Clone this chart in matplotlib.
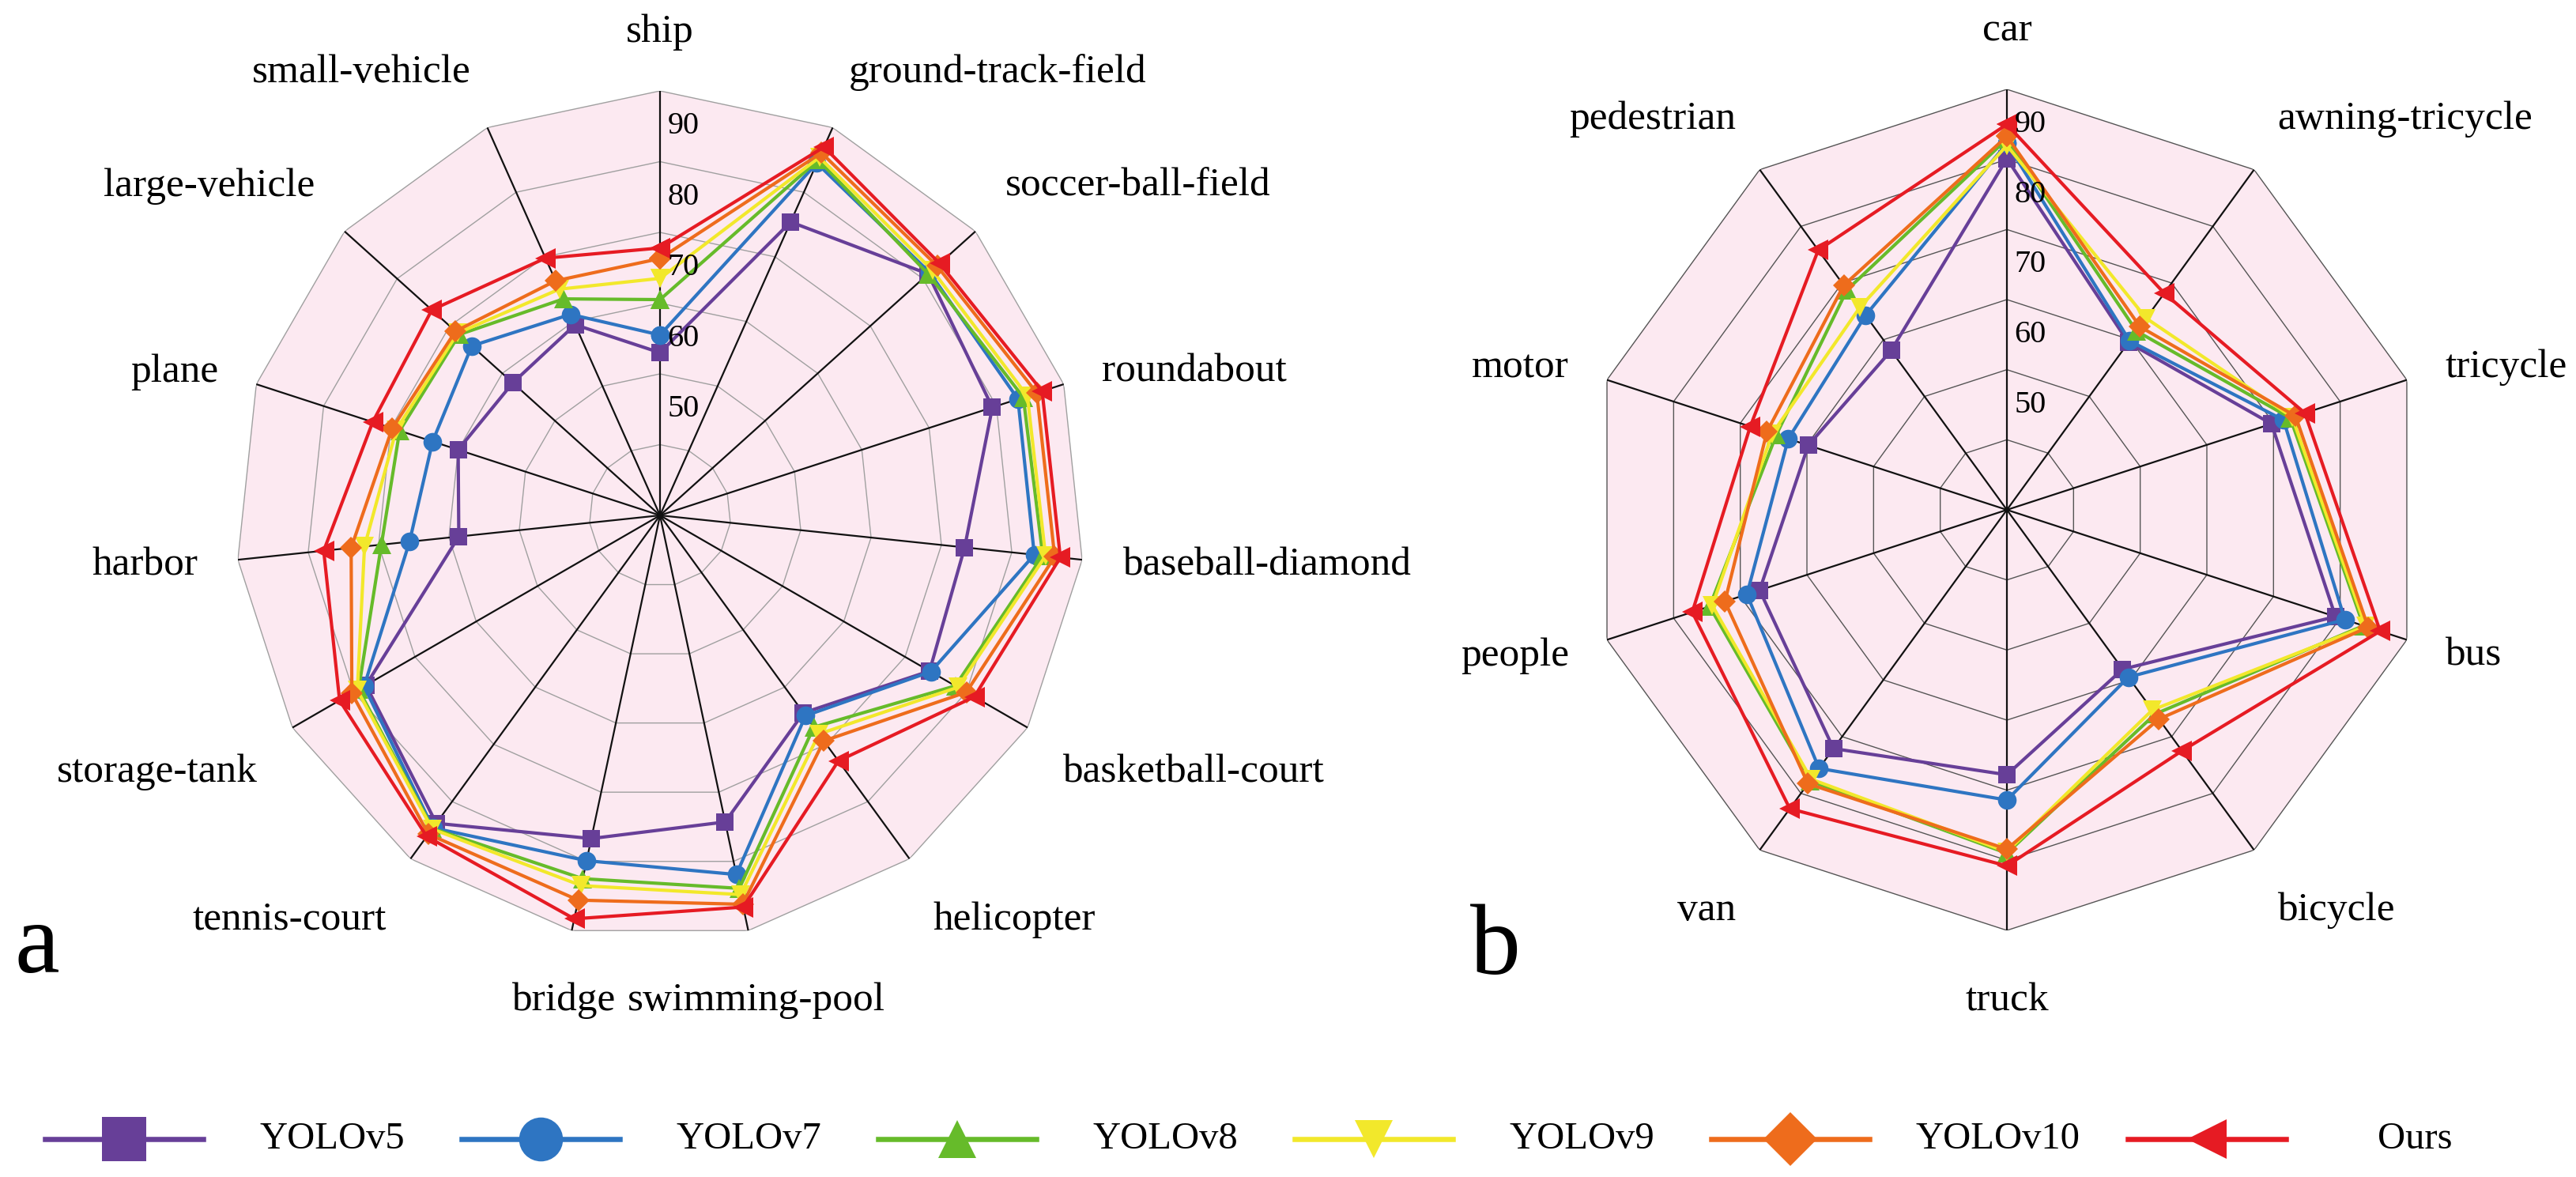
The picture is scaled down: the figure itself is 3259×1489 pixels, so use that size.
import numpy as np
import matplotlib
matplotlib.use("Agg")
import matplotlib.pyplot as plt
from matplotlib.lines import Line2D

FONT = ["Liberation Serif", "DejaVu Serif"]
plt.rcParams["font.family"] = FONT

W, H = 3259, 1489

MODELS = ["YOLOv5", "YOLOv7", "YOLOv8", "YOLOv9", "YOLOv10", "Ours"]
COLORS = ["#673F98", "#2E75C2", "#66BB2A", "#F2E82B", "#EE6C1C", "#E61B23"]
MARKERS = ["s", "o", "^", "v", "D", "<"]
MSIZE = [16, 17, 17, 17, 14, 19]
LEG_MSIZE = [40, 40, 35, 35, 35, 36]

# (a) DOTA classes, clockwise from the top
DOTA_CLASSES = ["ship", "ground-track-field", "soccer-ball-field", "roundabout",
                "baseball-diamond", "basketball-court", "helicopter",
                "swimming-pool", "bridge", "tennis-court", "storage-tank",
                "harbor", "plane", "large-vehicle", "small-vehicle"]
DOTA_V5 = [58.0, 80.4, 86.0, 84.4, 78.3, 79.0, 69.5, 79.3, 81.7, 88.8, 83.0, 63.6, 65.0, 63.0, 64.5]
DOTA_V7 = [60.5, 89.5, 86.3, 88.2, 88.2, 79.2, 70.0, 86.9, 84.9, 89.6, 83.3, 70.6, 68.8, 70.8, 66.1]
DOTA_V8 = [65.5, 90.0, 86.0, 89.0, 89.4, 83.2, 72.0, 88.9, 87.5, 89.7, 84.2, 74.6, 73.7, 73.2, 68.5]
DOTA_V9 = [68.5, 90.4, 86.8, 89.6, 89.8, 83.6, 73.2, 89.8, 88.5, 89.8, 84.4, 77.0, 74.2, 73.5, 70.0]
DOTA_V10 = [71.3, 91.1, 87.7, 91.0, 91.1, 85.0, 74.4, 91.2, 90.6, 90.7, 85.3, 78.9, 74.8, 73.9, 71.3]
DOTA_OURS = [72.8, 92.0, 88.2, 91.8, 91.9, 86.3, 77.9, 91.6, 93.3, 91.1, 87.3, 82.8, 77.7, 78.4, 74.8]

# (b) VisDrone classes, clockwise from the top
VIS_CLASSES = ["car", "awning-tricycle", "tricycle", "bus", "bicycle",
               "truck", "van", "people", "motor", "pedestrian"]
VIS_V5 = [85.1, 64.5, 74.7, 84.3, 63.1, 72.8, 77.1, 72.1, 64.8, 63.1]
VIS_V7 = [87.3, 64.8, 76.5, 85.7, 64.5, 76.4, 80.6, 74.0, 67.8, 69.3]
VIS_V8 = [87.9, 66.5, 77.5, 88.5, 71.0, 84.0, 82.8, 79.6, 69.6, 73.8]
VIS_V9 = [87.0, 68.8, 77.8, 88.8, 70.3, 83.8, 82.5, 79.2, 70.2, 70.7]
VIS_V10 = [88.3, 67.3, 78.3, 89.2, 71.9, 83.4, 83.3, 77.3, 71.0, 74.6]
VIS_OURS = [90.0, 73.2, 79.7, 91.0, 77.5, 85.8, 87.7, 82.2, 73.5, 80.8]

R_MIN, R_MAX = 35, 95
RINGS = [45, 55, 65, 75, 85, 95]
TICKS = [50, 60, 70, 80, 90]
PINK = "#FCE9F1"


def draw_radar(ax, classes, series, ring_color, spoke_color):
    n = len(classes)
    theta = np.linspace(0, 2 * np.pi, n, endpoint=False)
    closed = np.append(theta, theta[0])

    ax.set_theta_zero_location("N")
    ax.set_theta_direction(-1)
    ax.set_ylim(R_MIN, R_MAX)
    ax.grid(False)
    ax.spines["polar"].set_visible(False)
    ax.set_xticks([])
    ax.set_yticks([])
    ax.patch.set_alpha(0)

    ax.fill(closed, [R_MAX] * (n + 1), color=PINK, lw=0, zorder=0)
    for r in RINGS:
        ax.plot(closed, [r] * (n + 1), color=ring_color, lw=1.0, zorder=1)
    for t in theta:
        ax.plot([t, t], [R_MIN, R_MAX], color=spoke_color, lw=1.6, zorder=2)

    for i, vals in enumerate(series):
        ax.plot(closed, list(vals) + [vals[0]], color=COLORS[i], lw=3.0,
                marker=MARKERS[i], ms=MSIZE[i], mec=COLORS[i], mew=0,
                zorder=3 + i, clip_on=False)

    for v in TICKS:
        ax.annotate(str(v), xy=(0, v), xytext=(7, 0), textcoords="offset points",
                    ha="left", va="center", fontsize=29, family=FONT, zorder=10)

    r_lab = R_MIN + 1.095 * (R_MAX - R_MIN)
    for t, name in zip(theta, classes):
        s, c = np.sin(t), np.cos(t)
        ha = "center" if abs(s) < 0.25 else ("left" if s > 0 else "right")
        va = "center" if abs(c) < 0.45 else ("bottom" if c > 0 else "top")
        dy = -11 * max(0.0, -c)
        ax.annotate(name, xy=(t, r_lab), xytext=(0, dy), textcoords="offset points",
                    ha=ha, va=va, fontsize=37, family=FONT, annotation_clip=False)


fig = plt.figure(figsize=(W / 100, H / 100), dpi=100)

# left radar: centre (835, 652) px, radius 537 px
ax1 = fig.add_axes([(835 - 537) / W, (H - 652 - 537) / H, 1074 / W, 1074 / H],
                   projection="polar")
draw_radar(ax1, DOTA_CLASSES,
           [DOTA_V5, DOTA_V7, DOTA_V8, DOTA_V9, DOTA_V10, DOTA_OURS],
           ring_color="#A0A0A0", spoke_color="#111111")

# right radar: centre (2539, 645) px, radius 532 px
ax2 = fig.add_axes([(2539 - 532) / W, (H - 645 - 532) / H, 1064 / W, 1064 / H],
                   projection="polar")
draw_radar(ax2, VIS_CLASSES,
           [VIS_V5, VIS_V7, VIS_V8, VIS_V9, VIS_V10, VIS_OURS],
           ring_color="#555555", spoke_color="#111111")

fig.text(18 / W, (H - 1230) / H, "a", fontsize=92, family=FONT, ha="left", va="baseline")
fig.text(1860 / W, (H - 1232) / H, "b", fontsize=92, family=FONT, ha="left", va="baseline")

# legend row along the bottom
y_leg = (H - 1441) / H
for i, name in enumerate(MODELS):
    xc = 157 + i * 527
    line = Line2D([(xc - 100) / W, xc / W, (xc + 100) / W], [y_leg] * 3,
                  transform=fig.transFigure, color=COLORS[i], lw=4.7,
                  marker=MARKERS[i], ms=LEG_MSIZE[i], mew=0, markevery=[1])
    fig.add_artist(line)
    fig.text((xc + 263) / W, y_leg, name, fontsize=35, family=FONT,
             ha="center", va="center")

fig.savefig("out.png", dpi=100)
